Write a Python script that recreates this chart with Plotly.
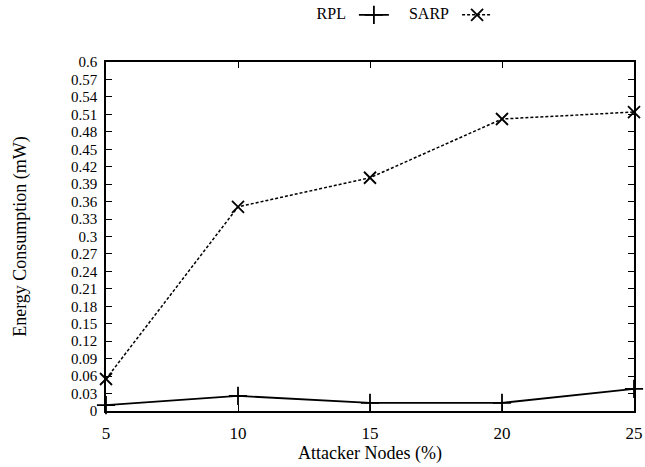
import plotly.graph_objects as go

attackers = [5, 10, 15, 20, 25]
rpl = [0.010, 0.026, 0.014, 0.014, 0.038]
sarp = [0.055, 0.351, 0.401, 0.502, 0.514]
yticks = [round(i * 0.03, 2) for i in range(21)]
ytick_labels = ["0" if v == 0 else ("%g" % v) for v in yticks]
series_names = ["RPL", "SARP"]

FONT = "Liberation Serif"

fig = go.Figure()
fig.add_trace(go.Scatter(
    x=attackers, y=rpl, name="", legend="legend", showlegend=True, mode="lines+markers",
    hovertemplate=series_names[0] + ": %{y}<extra></extra>",
    line=dict(color="black", width=1.8),
    marker=dict(symbol="cross-thin-open", size=13, line=dict(color="black", width=1.8)),
    cliponaxis=False,
))
fig.add_trace(go.Scatter(
    x=attackers, y=sarp, name="", legend="legend2", showlegend=True, mode="lines+markers",
    hovertemplate=series_names[1] + ": %{y}<extra></extra>",
    line=dict(color="black", width=1.5, dash="3px,2px"),
    marker=dict(symbol="x-thin-open", size=12, line=dict(color="black", width=1.8)),
    cliponaxis=False,
))

axis_common = dict(
    showline=True, linecolor="black", linewidth=1.5, mirror="ticks",
    ticks="inside", ticklen=6, tickwidth=1, tickcolor="black",
    showgrid=False, zeroline=False, automargin=False,
)
fig.update_xaxes(
    range=[5, 25], tickvals=attackers, ticklabelstandoff=6,
    tickfont=dict(family=FONT, size=17, color="black"),
    title=dict(text="Attacker Nodes (%)", font=dict(family=FONT, size=18, color="black"), standoff=4),
    **axis_common,
)
fig.update_yaxes(
    range=[0, 0.6], tickvals=yticks, ticktext=ytick_labels, ticklabelstandoff=4,
    tickfont=dict(family=FONT, size=15, color="black"),
    title=dict(text="Energy Consumption (mW)", font=dict(family=FONT, size=18, color="black"), standoff=40),
    **axis_common,
)
leg_common = dict(orientation="h", yanchor="middle", y=1.135, xanchor="left",
                  font=dict(family=FONT, size=16, color="black"),
                  bgcolor="rgba(0,0,0,0)", itemwidth=30)
fig.update_layout(
    width=645, height=467,
    showlegend=True,
    margin=dict(l=106, r=11, t=62, b=56, autoexpand=False),
    plot_bgcolor="white", paper_bgcolor="white",
    legend=dict(x=0.395, title=dict(text=series_names[0], side="left",
                font=dict(family=FONT, size=16, color="black")), **leg_common),
    legend2=dict(x=0.57, title=dict(text=series_names[1], side="left",
                 font=dict(family=FONT, size=16, color="black")), **leg_common),
)
fig.write_html("out.html")
